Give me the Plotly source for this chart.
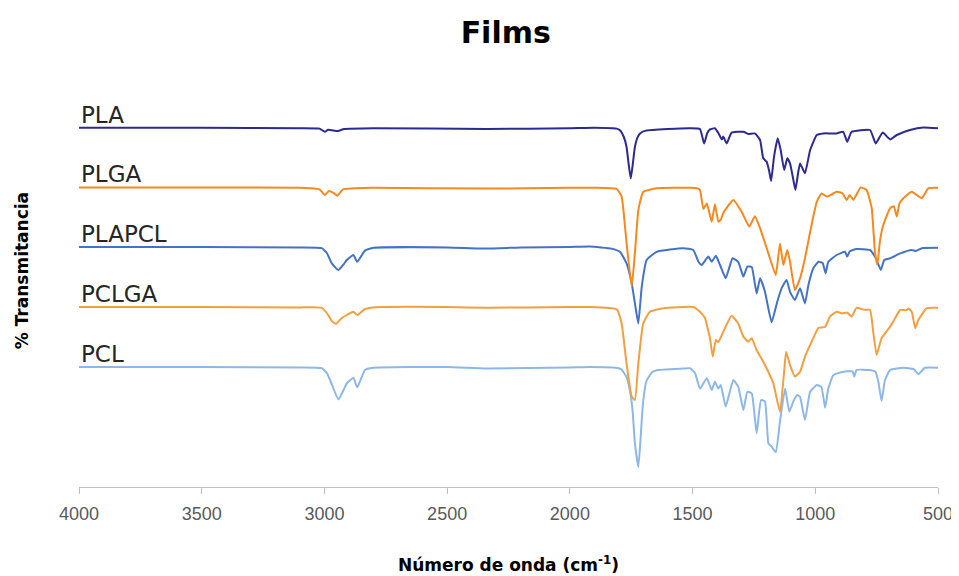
import plotly.graph_objects as go

# Wavenumber (cm-1) and offset % transmittance
pla_wn = [4000, 3500, 3100, 3020, 2998, 2985, 2945, 2920, 2800, 2340, 2000, 1900,
          1810, 1796, 1780, 1769, 1760, 1752, 1745, 1735, 1725, 1714, 1690, 1600,
          1510, 1470, 1453, 1440, 1429, 1409, 1395, 1381, 1375, 1361, 1341, 1293, 1273, 1246,
          1225, 1212, 1198, 1188, 1180, 1168, 1153, 1141, 1127, 1114, 1103, 1090, 1081, 1070,
          1062, 1042, 1021, 994, 967, 940, 913, 886, 870, 852, 777, 754, 743, 725, 695, 668,
          614, 560, 500]
pla_t = [89.8, 89.8, 89.7, 89.6, 88.8, 89.3, 89.0, 89.5, 89.7, 89.5, 89.7, 89.8,
         89.6, 89.2, 87.5, 85, 80.5, 77.1, 80, 85, 87.3, 88.4, 89.1, 89.5,
         89.7, 89.5, 85.9, 88.5, 89.4, 89.7, 88.5, 86.9, 87.6, 85.9, 88.6, 88.8, 88.25, 88.4,
         86.75, 82.2, 81.3, 79, 76.5, 82.6, 87.2, 84.25, 79.25, 82.2, 80.9, 77, 74.25, 78.5,
         80.9, 78.4, 84.25, 88, 88.4, 88.4, 88.4, 88.8, 86.3, 88.8, 89.25, 85.9, 86.9, 88.6, 86.9, 88,
         89.25, 89.9, 89.7]

plga_wn = [4000, 3500, 3100, 3059, 3020, 2998, 2982, 2960, 2948, 2924, 2800, 2340, 2000, 1900,
           1809, 1789, 1769, 1748, 1735, 1721, 1701, 1646, 1510, 1483, 1470, 1456, 1442, 1422,
           1409, 1395, 1385, 1375, 1334, 1300, 1269, 1246, 1225, 1198, 1161, 1144, 1130, 1114,
           1103, 1083, 1062, 1042, 1021, 994, 974, 953, 913, 890, 872, 860, 845, 815, 791, 770,
           757, 747, 737, 723, 695, 680, 668, 657, 641, 607, 566, 539, 500]
plga_t = [74.9, 74.9, 74.8, 74.7, 74.4, 73.0, 74.0, 73.4, 72.8, 74.4, 74.8, 74.6, 74.8, 74.8,
          74.5, 72.6, 61, 50.1, 58.4, 69.25, 73.8, 74.7, 74.8, 74.7, 74.3, 69.5, 70.9, 66.3,
          70.7, 66.3, 66.8, 68.5, 71.75, 68.8, 65.1, 67.7, 64.7, 59.7, 53, 60.9, 55.5, 59.25,
          56.3, 49.25, 52.2, 57.2, 63.8, 71.3, 73.4, 72.6, 73.8, 73.5, 71.75, 73, 71.75, 74.9, 74.25, 69.7,
          58.8, 55.5, 61.3, 65.5, 69.7, 70.2, 67.6, 70.9, 72.2, 73.8, 72.2, 74.7, 74.8]

plapcl_wn = [4000, 3500, 3100, 3011, 2990, 2970, 2943, 2920, 2909, 2882, 2866, 2835, 2801, 2500,
             2339, 2200, 2000, 1918, 1830, 1796, 1769, 1748, 1730, 1721, 1707, 1687, 1646, 1538,
             1497, 1476, 1463, 1436, 1422, 1405, 1388, 1365, 1337, 1314, 1293, 1277, 1259, 1239,
             1225, 1205, 1178, 1155, 1137, 1117, 1103, 1083, 1062, 1042, 1028, 1008, 987, 970, 958,
             947, 913, 879, 870, 860, 832, 777, 757, 747, 733, 719, 695, 654, 607, 590, 566, 500]
plapcl_t = [60, 60, 59.9, 59.7, 58.5, 55.9, 54.25, 55.8, 56.75, 58, 56.3, 59.1, 59.8, 59.9,
            59.6, 59.9, 60, 60.1, 59.6, 58.8, 55.9, 50.9, 44, 40.9, 50.1, 56.75, 58.8, 59.7,
            59.25, 56.3, 55.5, 57.6, 56.3, 57.8, 55.5, 52.2, 57.2, 56.3, 52.6, 55.1, 55, 48.4,
            52.2, 48.8, 41.2, 46.3, 49.7, 51.75, 48.8, 46.75, 49.7, 45.9, 50.5, 54.7, 56.3, 56, 53.4,
            56.3, 58, 58.8, 57.6, 58.9, 59.5, 59.25, 57.6, 56.3, 54.25, 56.75, 57.2, 58.4, 59.25, 59, 59.7, 59.8]

pclga_wn = [4000, 3500, 3100, 3011, 2990, 2970, 2953, 2930, 2909, 2882, 2866, 2835, 2801, 2500,
            2339, 2000, 1918, 1809, 1789, 1769, 1748, 1735, 1721, 1701, 1674, 1619, 1497, 1470,
            1449, 1442, 1429, 1418, 1405, 1395, 1375, 1341, 1314, 1293, 1273, 1259, 1239, 1205,
            1171, 1144, 1127, 1119, 1103, 1083, 1062, 1042, 1015, 987, 960, 940, 913, 890, 870,
            852, 832, 800, 777, 764, 750, 730, 695, 675, 654, 630, 620, 607, 593, 580, 546, 500]
pclga_t = [45, 45, 44.9, 44.8, 43.5, 41.5, 40.75, 42.2, 43, 43.8, 43, 44.5, 44.9, 45,
           44.8, 45, 45, 44.4, 40.9, 30.9, 22.6, 21.75, 30.9, 40.9, 43.8, 44.7, 45, 43.8,
           42.2, 40.5, 37.2, 32.6, 36.75, 36.2, 38.8, 42.8, 40.9, 37.6, 36.3, 37.2, 34.25, 30.5,
           25.9, 18.8, 28.8, 33.8, 30.5, 27.6, 28.8, 32.6, 36.3, 39.8, 40, 42.6, 43.8, 43.4, 43.6,
           42.6, 44.8, 44.3, 44.3, 38.8, 33, 37.2, 40.1, 42.2, 44.25, 44.2, 44.6, 43.8, 39.7, 41.75, 44.7, 44.8]

pcl_wn = [4000, 3500, 3100, 3011, 2990, 2977, 2943, 2920, 2909, 2882, 2866, 2835, 2801, 2500,
          2339, 2000, 1918, 1810, 1790, 1769, 1755, 1745, 1735, 1721, 1712, 1702, 1688, 1665,
          1646, 1538, 1510, 1490, 1470, 1442, 1422, 1409, 1395, 1385, 1365, 1334, 1314, 1293,
          1277, 1259, 1239, 1221, 1205, 1191, 1178, 1161, 1144, 1123, 1106, 1090, 1073, 1062,
          1042, 1021, 994, 975, 960, 947, 926, 886, 848, 841, 832, 777, 755, 743, 730, 716,
          695, 641, 600, 580, 553, 500]
pcl_t = [30, 30, 29.9, 29.7, 28.5, 26.75, 21.9, 24.5, 25.9, 27.3, 24.9, 29.25, 29.8, 30,
         29.6, 29.9, 30, 29.8, 29.4, 27.5, 24, 19.5, 11, 5, 12, 21, 26.5, 28.7,
         29.2, 29.6, 29.7, 28.5, 24.6, 27.2, 24.25, 26.3, 24.6, 25.5, 20.1, 26.75, 25.1, 19.25,
         23.8, 23.4, 13.4, 21.75, 21.4, 10.9, 10.1, 8.7, 16.3, 24.6, 18.8, 21.3, 23, 22.5,
         16.75, 23.8, 25.5, 25, 19.8, 24.6, 28, 28.8, 28.9, 27.6, 29.25, 29.25, 28.8, 26.3, 21.5, 26.75,
         29.25, 29.8, 29.5, 28.2, 29.8, 29.8]

series_names = ["PLA", "PLGA", "PLAPCL", "PCLGA", "PCL"]
series_colors = ["#2B2A8E", "#F5891F", "#4472C4", "#F0A040", "#8DB8E6"]
series_wn = [pla_wn, plga_wn, plapcl_wn, pclga_wn, pcl_wn]
series_t = [pla_t, plga_t, plapcl_t, pclga_t, pcl_t]
x_ticks = [4000, 3500, 3000, 2500, 2000, 1500, 1000, 500]

fig = go.Figure()
# draw bottom series first so upper spectra sit on top where they cross
for name, color, wn, t in reversed(list(zip(series_names, series_colors, series_wn, series_t))):
    fig.add_trace(go.Scatter(x=wn, y=t, mode="lines", name=name,
                             line=dict(color=color, width=2, shape="spline", smoothing=0.4),
                             showlegend=False))
    fig.add_annotation(x=wn[0], y=t[0], xref="x", yref="y", text=name,
                       xanchor="left", yanchor="bottom", yshift=-2, showarrow=False,
                       font=dict(family="DejaVu Sans", size=23, color="#262626"))

fig.update_layout(
    width=959, height=576,
    margin=dict(l=71, r=29, t=79, b=97),
    paper_bgcolor="white", plot_bgcolor="white",
    title=dict(text="<b>Films</b>", x=0.519, xanchor="center", y=0.958, yanchor="middle",
               font=dict(family="DejaVu Sans", size=30, color="#000000")),
    xaxis=dict(range=[4000, 500], tickvals=x_ticks, ticktext=[str(v) for v in x_ticks],
               showline=True, linecolor="#BFBFBF", linewidth=1,
               ticks="outside", ticklen=6, tickcolor="#BFBFBF",
               ticklabelstandoff=4,
               showgrid=False, zeroline=False,
               tickfont=dict(family="Liberation Sans", size=18, color="#595959")),
    yaxis=dict(range=[0, 100], visible=True, showticklabels=False, showline=False,
               showgrid=False, zeroline=False, ticks=""),
)
fig.add_annotation(text="<b>Número de onda (cm<sup>-1</sup>)</b>", xref="paper", yref="paper",
                   x=0.5, y=-0.192, xanchor="center", yanchor="middle", showarrow=False,
                   font=dict(family="DejaVu Sans", size=17, color="#000000"))
fig.add_annotation(text="<b>% Transmitancia</b>", xref="paper", yref="paper",
                   x=-0.066, y=0.54, xanchor="center", yanchor="middle", showarrow=False,
                   textangle=-90, font=dict(family="DejaVu Sans", size=17, color="#000000"))

fig.write_html("out.html")
